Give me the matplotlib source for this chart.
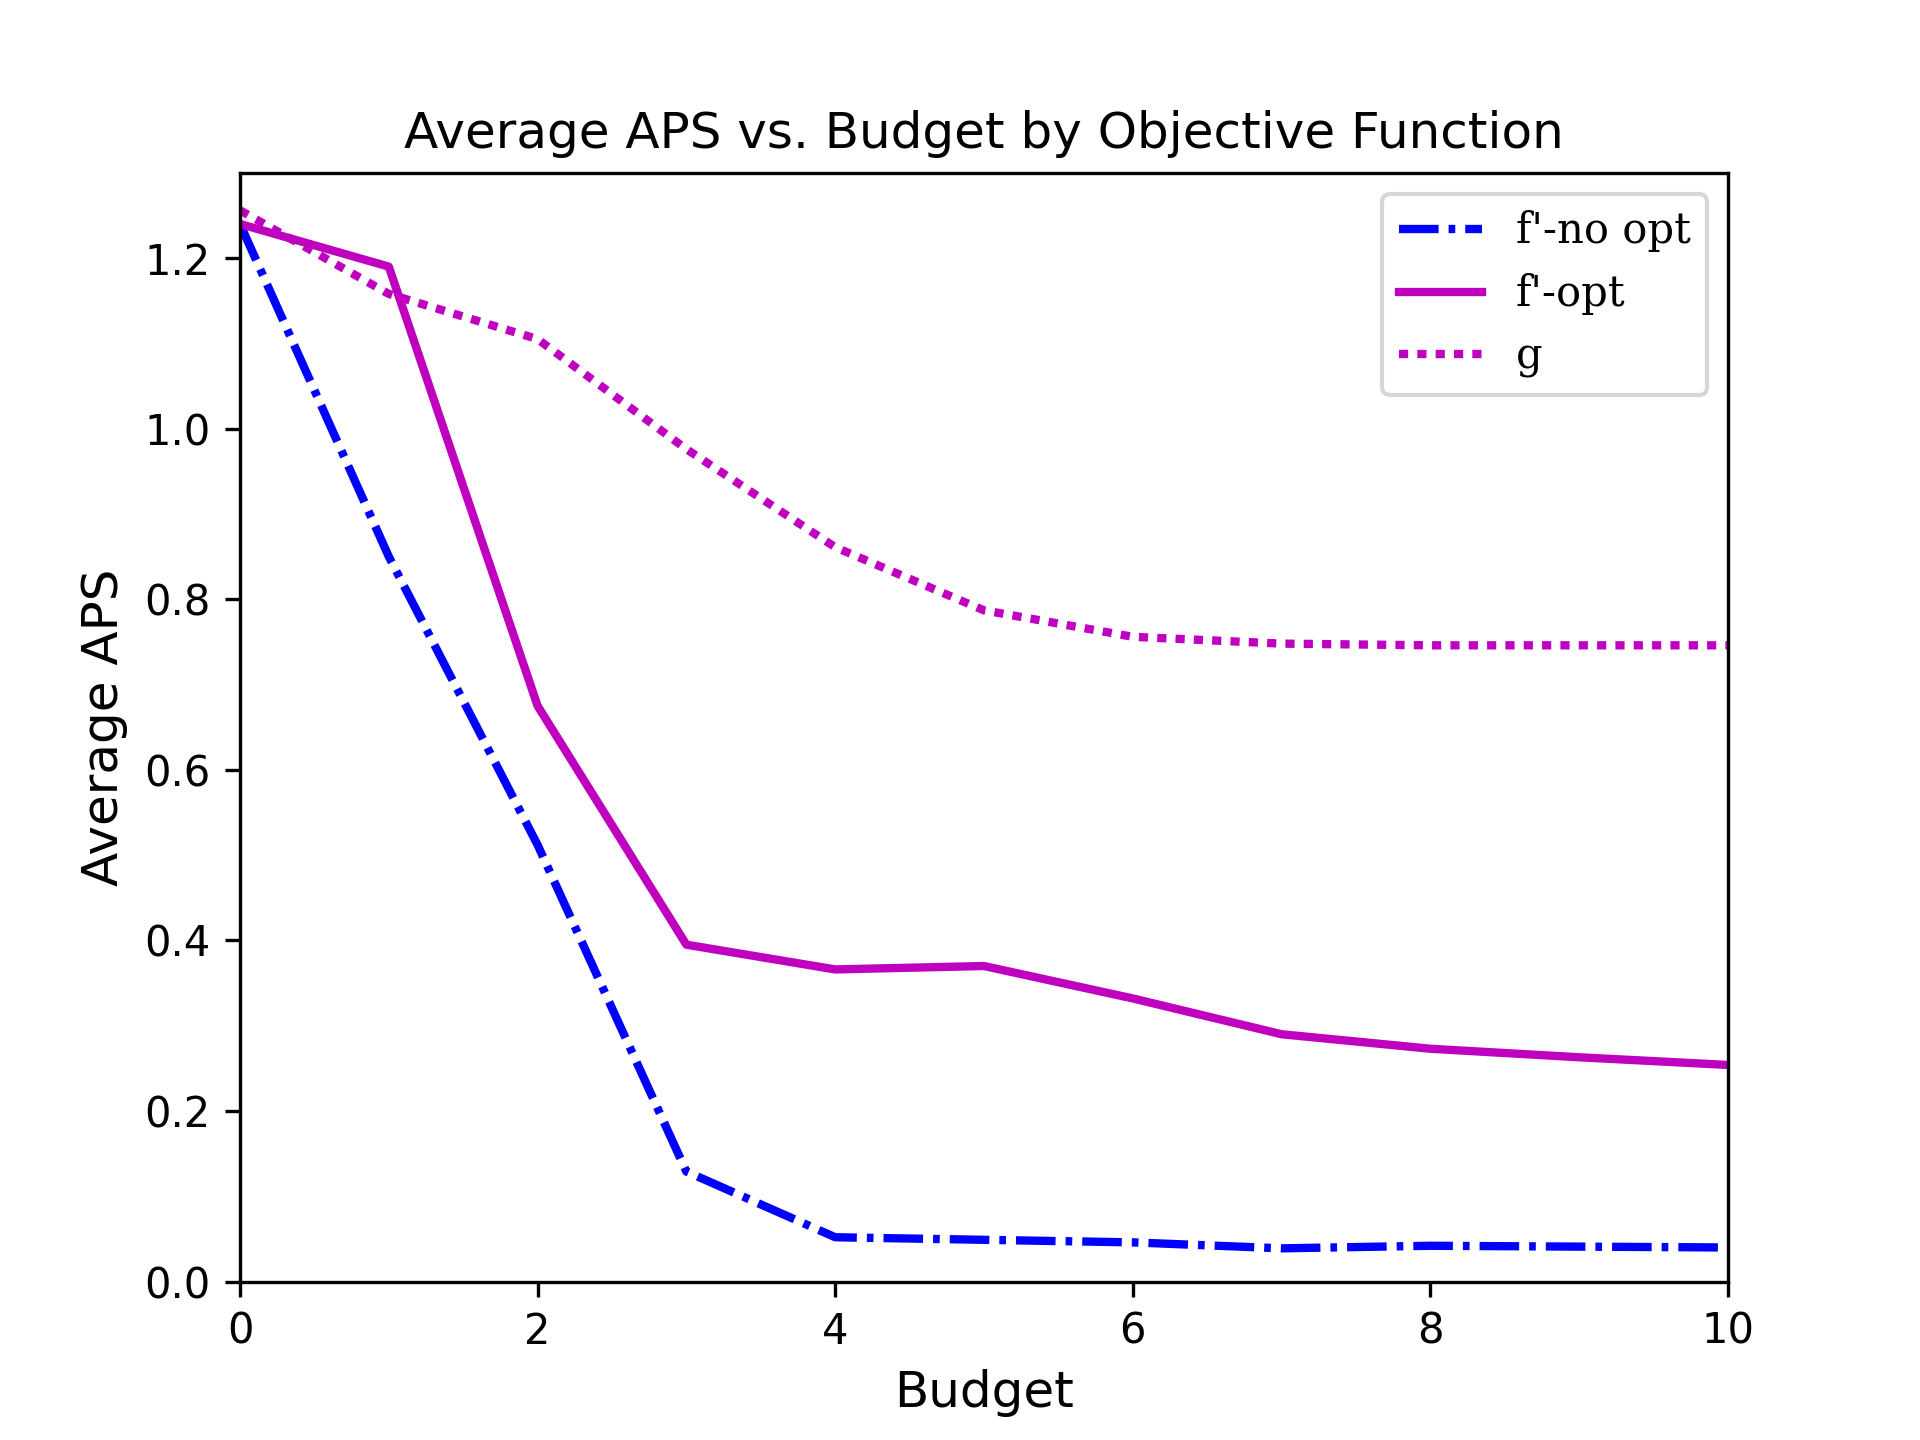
import matplotlib
matplotlib.use("Agg")
import matplotlib.pyplot as plt

budget = [0, 1, 2, 3, 4, 5, 6, 7, 8, 9, 10]
f_no_opt = [1.240, 0.850, 0.512, 0.129, 0.052, 0.049, 0.046, 0.039, 0.042, 0.041, 0.040]
f_opt = [1.240, 1.190, 0.675, 0.395, 0.366, 0.370, 0.332, 0.290, 0.273, 0.263, 0.254]
g_vals = [1.256, 1.158, 1.105, 0.976, 0.861, 0.787, 0.756, 0.748, 0.746, 0.746, 0.746]

# dash lengths given in points, not scaled by line width
plt.rcParams["lines.scale_dashes"] = False

plt.figure(figsize=(6.4, 4.8), dpi=300)
plt.plot(budget, f_no_opt, color="b", linewidth=2, dashes=(9.5, 2.4, 1.6, 2.4), label="f'-no opt")
plt.plot(budget, f_opt, "m-", linewidth=2, label="f'-opt")
plt.plot(budget, g_vals, color="m", linewidth=2, dashes=(2.2, 2.2), label="g")
plt.xlim(0, 10)
plt.ylim(0, 1.3)
plt.title("Average APS vs. Budget by Objective Function", fontsize=12)
plt.xlabel("Budget", fontsize=12)
plt.ylabel("Average APS", fontsize=12)
plt.legend(prop={"family": "serif", "size": 10})
plt.savefig("out.png", dpi=300)
